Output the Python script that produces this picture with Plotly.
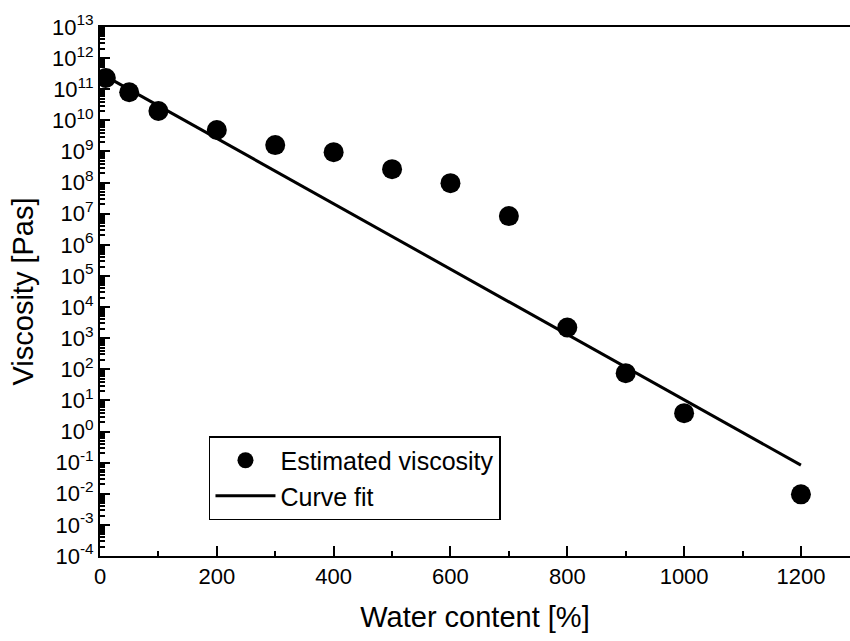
import plotly.graph_objects as go

# Data
water_content = [10, 50, 100, 200, 300, 400, 500, 600, 700, 800, 900, 1000, 1200]
viscosity = [2.3e11, 8.0e10, 2.0e10, 4.9e9, 1.6e9, 9.5e8, 2.7e8, 9.6e7, 8.4e6,
             2.2e3, 75, 3.9, 0.0096]
fit_x = [10, 1200]
fit_y = [2.6e11, 0.083]

decades = list(range(-4, 14))
ytick_vals = [10.0 ** d for d in decades]
ytick_text = [f"10<sup>{d}</sup>" for d in decades]
yminor_vals = [m * 10.0 ** d for d in decades[:-1] for m in range(2, 10)]

FONT = "Liberation Sans, Arial, sans-serif"

fig = go.Figure()
fig.add_trace(go.Scatter(
    x=water_content, y=viscosity, mode="markers", name="Estimated viscosity",
    marker=dict(size=20, color="black"),
))
fig.add_trace(go.Scatter(
    x=fit_x, y=fit_y, mode="lines", name="Curve fit",
    line=dict(color="black", width=3),
))

fig.update_layout(
    width=850, height=641,
    margin=dict(l=100, r=0, t=27, b=85),
    paper_bgcolor="white", plot_bgcolor="white",
    font=dict(family=FONT, color="black", size=22),
    showlegend=True,
    legend=dict(
        x=0.1453, y=0.2268, xanchor="left", yanchor="top",
        bordercolor="black", borderwidth=1.5, bgcolor="white",
        font=dict(size=25, family=FONT, color="black"),
        itemsizing="trace", itemwidth=60, tracegroupgap=0,
    ),
)

fig.update_xaxes(
    range=[0, 1284], tickmode="linear", tick0=0, dtick=200,
    ticks="inside", ticklen=10, tickwidth=2, tickcolor="black",
    minor=dict(dtick=100, tick0=0, ticks="inside", ticklen=5, tickwidth=2,
               tickcolor="black", showgrid=False),
    showline=True, linecolor="black", linewidth=2, mirror=True,
    showgrid=False, zeroline=False,
    tickfont=dict(size=22, family=FONT, color="black"),
    title=dict(text="Water content [%]", font=dict(size=29, family=FONT, color="black"),
               standoff=18),
)
fig.update_yaxes(
    type="log", range=[-4, 13],
    tickmode="array", tickvals=ytick_vals, ticktext=ytick_text,
    ticks="inside", ticklen=10, tickwidth=2, tickcolor="black",
    minor=dict(tickmode="array", tickvals=yminor_vals, ticks="inside", ticklen=5,
               tickwidth=1.5, tickcolor="black", showgrid=False),
    showline=True, linecolor="black", linewidth=2, mirror=False,
    showgrid=False, zeroline=False,
    tickfont=dict(size=22, family=FONT, color="black"),
    title=dict(text="Viscosity [Pas]", font=dict(size=29, family=FONT, color="black"),
               standoff=10),
)

fig.write_html("out.html")
